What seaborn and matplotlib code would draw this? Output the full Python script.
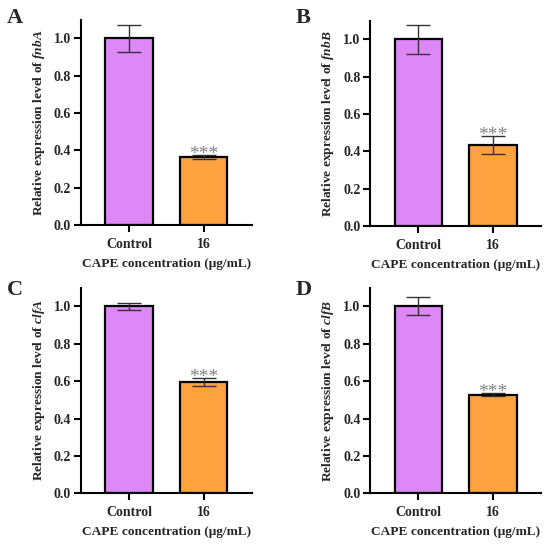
import pandas as pd
import seaborn as sns
import matplotlib.pyplot as plt

# values
groups = ['Control', '16']
genes = ['fnbA', 'fnbB', 'clfA', 'clfB']
letters = ['A', 'B', 'C', 'D']
means = {
    'fnbA': [1.00, 0.363],
    'fnbB': [1.00, 0.434],
    'clfA': [1.00, 0.595],
    'clfB': [1.00, 0.527],
}
errs = {
    'fnbA': [0.073, 0.010],
    'fnbB': [0.077, 0.050],
    'clfA': [0.020, 0.022],
    'clfB': [0.048, 0.008],
}
bar_colors = ['#DE88F8', '#FDA23F']
y_ticks = [0.0, 0.2, 0.4, 0.6, 0.8, 1.0]

sns.set_style('ticks')
plt.rcParams['font.family'] = ['Liberation Serif', 'DejaVu Serif']
plt.rcParams['font.weight'] = 'bold'
plt.rcParams['axes.labelweight'] = 'bold'
plt.rcParams['mathtext.fontset'] = 'custom'
plt.rcParams['mathtext.it'] = 'Liberation Serif:italic:bold'
plt.rcParams['mathtext.rm'] = 'Liberation Serif:bold'

fig = plt.figure(figsize=(5.5, 5.45), dpi=100)

# axes boxes [left, bottom, width, height] in figure fraction
boxes = [
    [0.147, 0.587, 0.311, 0.377],
    [0.673, 0.585, 0.311, 0.377],
    [0.147, 0.095, 0.311, 0.377],
    [0.673, 0.095, 0.311, 0.377],
]
letter_pos = [(0.012, 0.985), (0.538, 0.985), (0.012, 0.487), (0.538, 0.487)]

for gene, letter, box, lp in zip(genes, letters, boxes, letter_pos):
    ax = fig.add_axes(box)
    df = pd.DataFrame({'group': groups, 'value': means[gene], 'err': errs[gene]})
    sns.barplot(data=df, x='group', y='value', hue='group', palette=bar_colors,
                order=groups, hue_order=groups, width=0.64, edgecolor='black',
                linewidth=1.6, saturation=1, legend=False, errorbar=None, ax=ax)
    ax.errorbar(range(len(groups)), df['value'], yerr=df['err'], fmt='none',
                ecolor='#333333', elinewidth=1.0, capsize=8.5, capthick=1.0)
    # significance stars sitting on the treated bar's cap
    top = df['value'][1] + df['err'][1]
    ax.text(1, top + 0.004, '***', ha='center', va='center', fontsize=14,
            color='#808080', fontweight='normal')

    ax.set_xlim(-0.65, 1.65)
    ax.set_ylim(0, 1.1)
    ax.set_yticks(y_ticks)
    ax.set_yticklabels([f'{t:.1f}' for t in y_ticks])
    ax.set_xlabel('CAPE concentration (μg/mL)', fontsize=9.6, labelpad=5)
    ax.set_ylabel('Relative expression level of $\\mathit{' + gene + '}$',
                  fontsize=9.6, labelpad=5)
    ax.tick_params(axis='both', labelsize=10, width=1.5, length=5, pad=2,
                   color='black')
    ax.tick_params(axis='x', length=5, pad=4)
    for s in ['left', 'bottom']:
        ax.spines[s].set_linewidth(1.5)
        ax.spines[s].set_color('black')
    sns.despine(ax=ax)
    fig.text(lp[0], lp[1], letter, fontsize=16, fontweight='bold',
             ha='left', va='top')

fig.savefig('out.png', dpi=100)
